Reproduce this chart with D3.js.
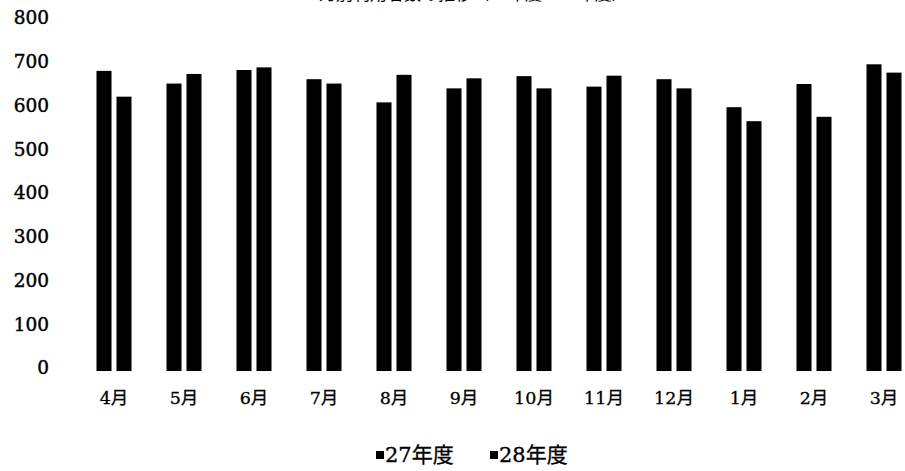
<!DOCTYPE html>
<html>
<head>
<meta charset="utf-8">
<script src="https://cdn.jsdelivr.net/npm/d3@7"></script>
<style>
  html, body { margin: 0; padding: 0; background: #fff; }
  svg { display: block; }
  text { fill: #000; }
</style>
</head>
<body>
<svg id="chart" width="905" height="471"></svg>
<script>
// Monthly usage counts for two fiscal years
const months = ["4月", "5月", "6月", "7月", "8月", "9月", "10月", "11月", "12月", "1月", "2月", "3月"];
const seriesNames = ["27年度", "28年度"];
const fy27 = [686, 657, 688, 667, 614, 646, 674, 650, 667, 603, 656, 701];
const fy28 = [627, 679, 694, 657, 677, 669, 646, 675, 646, 571, 581, 682];
const yTicks = [0, 100, 200, 300, 400, 500, 600, 700, 800];
const titleText = "月別利用者数の推移（27年度・28年度）";

const seriesValues = [fy27, fy28];
const rows = months.map((m, i) => ({
  month: m,
  values: seriesNames.map((s, j) => ({ series: s, value: seriesValues[j][i] }))
}));

const svg = d3.select("#chart");
const numFont = "'DejaVu Serif', 'Noto Sans CJK JP', serif";

const x0 = d3.scaleBand().domain(months).range([79, 919]).paddingInner(0.5).paddingOuter(0.25);
const x1 = d3.scaleBand().domain(seriesNames).range([0, x0.bandwidth()]).paddingInner(0.25);
const y = d3.scaleLinear().domain([0, 800]).range([371, 21]);
const color = d3.scaleOrdinal().domain(seriesNames).range(["#000", "#000"]);

// Title (runs off the top edge of the page)
svg.append("text")
  .attr("x", 474).attr("y", -0.5)
  .attr("text-anchor", "middle")
  .style("font-family", "'Noto Sans CJK JP', sans-serif")
  .style("font-size", "17px")
  .text(titleText);

// Y axis labels (no axis line)
const yAxis = d3.axisLeft(y).tickValues(yTicks).tickSize(0).tickPadding(0);
const yg = svg.append("g").attr("transform", "translate(49,-3)").call(yAxis);
yg.select(".domain").remove();
yg.selectAll("text")
  .style("font-family", numFont)
  .style("font-size", "18.5px")
  .attr("fill", "#000")
  .attr("stroke", "#000")
  .attr("stroke-width", 0.45);

// Bars
const groups = svg.append("g").selectAll("g")
  .data(rows).join("g")
  .attr("transform", d => `translate(${x0(d.month)},0)`);
groups.selectAll("rect")
  .data(d => d.values).join("rect")
  .attr("x", d => x1(d.series))
  .attr("width", x1.bandwidth())
  .attr("y", d => y(d.value))
  .attr("height", d => y(0) - y(d.value))
  .attr("fill", d => color(d.series));

// X axis labels (no axis line)
const xAxis = d3.axisBottom(x0).tickSize(0).tickPadding(0);
const xg = svg.append("g").attr("transform", "translate(0,390)").call(xAxis);
xg.select(".domain").remove();
xg.selectAll("text")
  .attr("dy", "0.8em")
  .style("font-family", numFont)
  .style("font-size", "17.5px")
  .attr("fill", "#000")
  .attr("stroke", "#000")
  .attr("stroke-width", 0.3);

// Legend
const legendPos = [376, 490];
const legend = svg.append("g").selectAll("g")
  .data(seriesNames).join("g")
  .attr("transform", (d, i) => `translate(${legendPos[i]},455)`);
legend.append("rect")
  .attr("x", 0).attr("y", -4)
  .attr("width", 8).attr("height", 8)
  .attr("fill", d => color(d));
legend.append("text")
  .attr("x", 9).attr("y", 0)
  .attr("dy", "0.35em")
  .style("font-family", numFont)
  .style("font-size", "21px")
  .attr("stroke", "#000")
  .attr("stroke-width", 0.3)
  .text(d => d);
</script>
</body>
</html>
